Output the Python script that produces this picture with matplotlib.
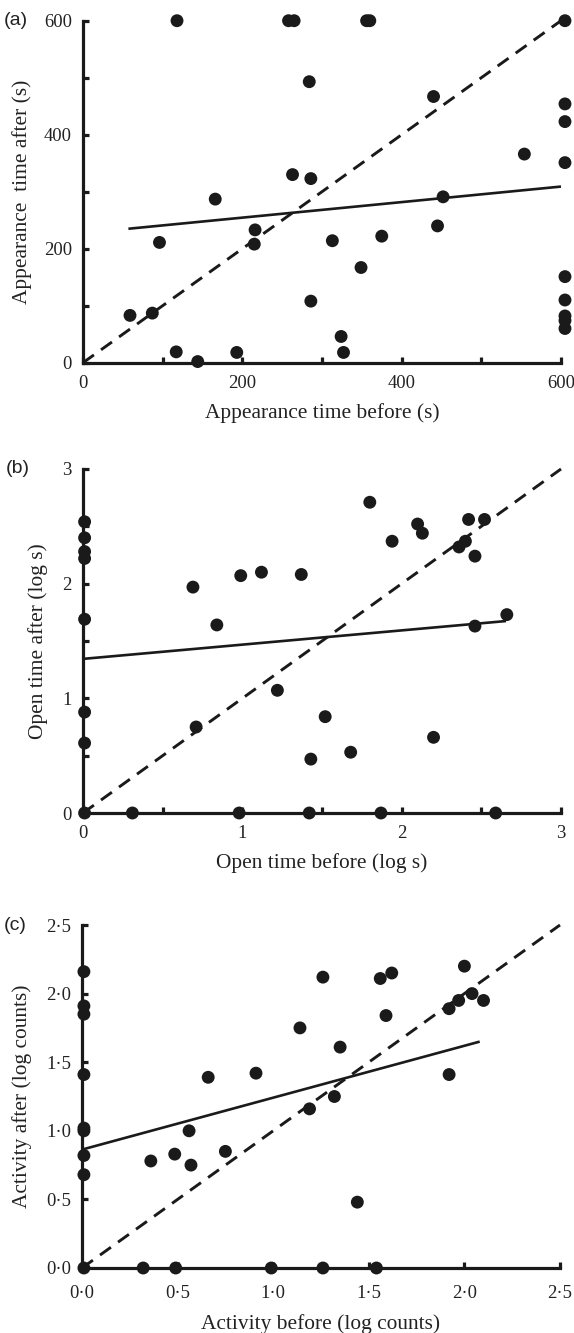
import matplotlib
matplotlib.use("Agg")
import matplotlib.pyplot as plt
from matplotlib.ticker import FuncFormatter, MultipleLocator
import numpy as np

# ---------------- data ----------------
# (a) appearance time
appear_before = [118, 258, 265, 356, 360, 605, 284, 440, 605, 605, 554, 605, 263, 286,
                 166, 452, 216, 215, 96, 313, 375, 445, 349, 605, 286, 605, 605, 605,
                 605, 59, 87, 324, 117, 193, 327, 144]
appear_after = [600, 600, 600, 600, 600, 600, 493, 467, 454, 423, 366, 351, 330, 323,
                287, 291, 233, 208, 211, 214, 222, 240, 167, 151, 108, 110, 82, 74,
                60, 83, 87, 46, 19, 18, 18, 2]
appear_fit_x = [57, 600]
appear_fit_y = [235, 309]

# (b) open time (log s)
open_before = [0.01, 0.01, 0.01, 0.01, 0.01, 0.01, 0.01, 0.01,
               1.80, 2.10, 2.13, 1.94, 2.42, 2.52, 2.40, 2.36, 2.46, 0.99, 1.12, 1.37,
               0.69, 0.84, 2.46, 2.66, 1.22, 1.52, 0.71, 2.20, 1.68, 1.43,
               0.31, 0.98, 1.42, 1.87, 2.59]
open_after = [2.54, 2.40, 2.28, 2.22, 1.69, 0.88, 0.61, 0.0,
              2.71, 2.52, 2.44, 2.37, 2.56, 2.56, 2.37, 2.32, 2.24, 2.07, 2.10, 2.08,
              1.97, 1.64, 1.63, 1.73, 1.07, 0.84, 0.75, 0.66, 0.53, 0.47,
              0.0, 0.0, 0.0, 0.0, 0.0]
open_fit_x = [0, 2.655]
open_fit_y = [1.344, 1.674]

# (c) activity (log counts)
act_before = [0.01, 0.01, 0.01, 0.01, 0.01, 0.01, 0.01, 0.01, 0.01,
              1.26, 1.56, 1.62, 2.00, 2.04, 2.10, 1.97, 1.92, 1.59, 1.14, 1.35,
              0.91, 0.66, 1.92, 1.32, 1.19, 0.56, 0.75, 0.485, 0.36, 0.57, 1.44,
              0.32, 0.49, 0.99, 1.26, 1.54]
act_after = [2.16, 1.91, 1.85, 1.41, 1.02, 1.00, 0.82, 0.68, 0.0,
             2.12, 2.11, 2.15, 2.20, 2.00, 1.95, 1.95, 1.89, 1.84, 1.75, 1.61,
             1.42, 1.39, 1.41, 1.25, 1.16, 1.00, 0.85, 0.83, 0.78, 0.75, 0.48,
             0.0, 0.0, 0.0, 0.0, 0.0]
act_fit_x = [0, 2.08]
act_fit_y = [0.863, 1.65]

panel_labels = ["(a)", "(b)", "(c)"]
x_titles = ["Appearance time before (s)", "Open time before (log s)", "Activity before (log counts)"]
y_titles = ["Appearance  time after (s)", "Open time after (log s)", "Activity after (log counts)"]

# ---------------- figure ----------------
W, H = 574, 1333
fig = plt.figure(figsize=(W / 100, H / 100), dpi=100)

SERIF = ["Liberation Serif", "DejaVu Serif"]
SANS = ["Liberation Sans", "DejaVu Sans"]
TICK_FS = 13.4
LABEL_FS = 15.4


def px_axes(left, right, top, bottom):
    return fig.add_axes([left / W, (H - bottom) / H, (right - left) / W, (bottom - top) / H])


axes_px = [(83, 561, 20.7, 362.7), (83, 561, 469, 813), (82, 560, 925, 1268)]
limits = [600, 3, 2.5]
major = [200, 1, 0.5]
minor = [100, 0.5, 0.5]
ylabel_x = [-0.128, -0.094, -0.126]
xlabel_y = [-0.146, -0.145, -0.163]
xpad = [9, 9, 12.5]
datasets = [(appear_before, appear_after, appear_fit_x, appear_fit_y),
            (open_before, open_after, open_fit_x, open_fit_y),
            (act_before, act_after, act_fit_x, act_fit_y)]


def dot_fmt(v, pos):
    return f"{v:.1f}".replace(".", "\u00b7")


for i, (ax_px, lim, (xs, ys, fx, fy)) in enumerate(zip(axes_px, limits, datasets)):
    ax = px_axes(*ax_px)
    ax.set_xlim(0, lim)
    ax.set_ylim(0, lim)
    for s in ["top", "right"]:
        ax.spines[s].set_visible(False)
    for s in ["left", "bottom"]:
        ax.spines[s].set_linewidth(2.3)
        ax.spines[s].set_color("#1a1a1a")
        ax.spines[s].set_capstyle("projecting")

    # identity line
    ax.plot([0, lim], [0, lim], color="#1a1a1a", lw=2.1, dashes=(4.6, 3.0),
            zorder=2, clip_on=False)
    # regression line
    ax.plot(fx, fy, color="#1a1a1a", lw=1.9, zorder=2, solid_capstyle="butt")
    # points
    ax.scatter(xs, ys, s=86, color="#1a1a1a", edgecolors="none", zorder=3, clip_on=False)

    # ticks
    ax.xaxis.set_major_locator(MultipleLocator(major[i]))
    ax.yaxis.set_major_locator(MultipleLocator(major[i]))
    ax.xaxis.set_minor_locator(MultipleLocator(minor[i]))
    ax.yaxis.set_minor_locator(MultipleLocator(minor[i]))
    ax.tick_params(which="both", direction="in", length=4.5, width=2.3, color="#1a1a1a")
    ax.tick_params(axis="x", which="major", pad=xpad[i])
    ax.tick_params(axis="y", which="major", pad=8)
    if i == 2:
        ax.xaxis.set_major_formatter(FuncFormatter(dot_fmt))
        ax.yaxis.set_major_formatter(FuncFormatter(dot_fmt))
    else:
        ax.xaxis.set_major_formatter(FuncFormatter(lambda v, p: f"{v:g}"))
        ax.yaxis.set_major_formatter(FuncFormatter(lambda v, p: f"{v:g}"))
    for lab in ax.get_xticklabels() + ax.get_yticklabels():
        lab.set_family(SERIF)
        lab.set_fontsize(TICK_FS)
        lab.set_color("#222222")

    ax.set_xlabel(x_titles[i], family=SERIF, fontsize=LABEL_FS, color="#222222", va="center")
    ax.set_ylabel(y_titles[i], family=SERIF, fontsize=LABEL_FS, color="#222222", va="center")
    ax.xaxis.set_label_coords(0.5, xlabel_y[i])
    ax.yaxis.set_label_coords(ylabel_x[i], 0.5)

    # panel label
    lx = 4 if i != 1 else 6
    fig.text(lx / W, 1 - (ax_px[2] + 0) / H, panel_labels[i], family=SANS, fontsize=14,
             color="#222222", ha="left", va="center")

fig.savefig("out.png", dpi=100)
